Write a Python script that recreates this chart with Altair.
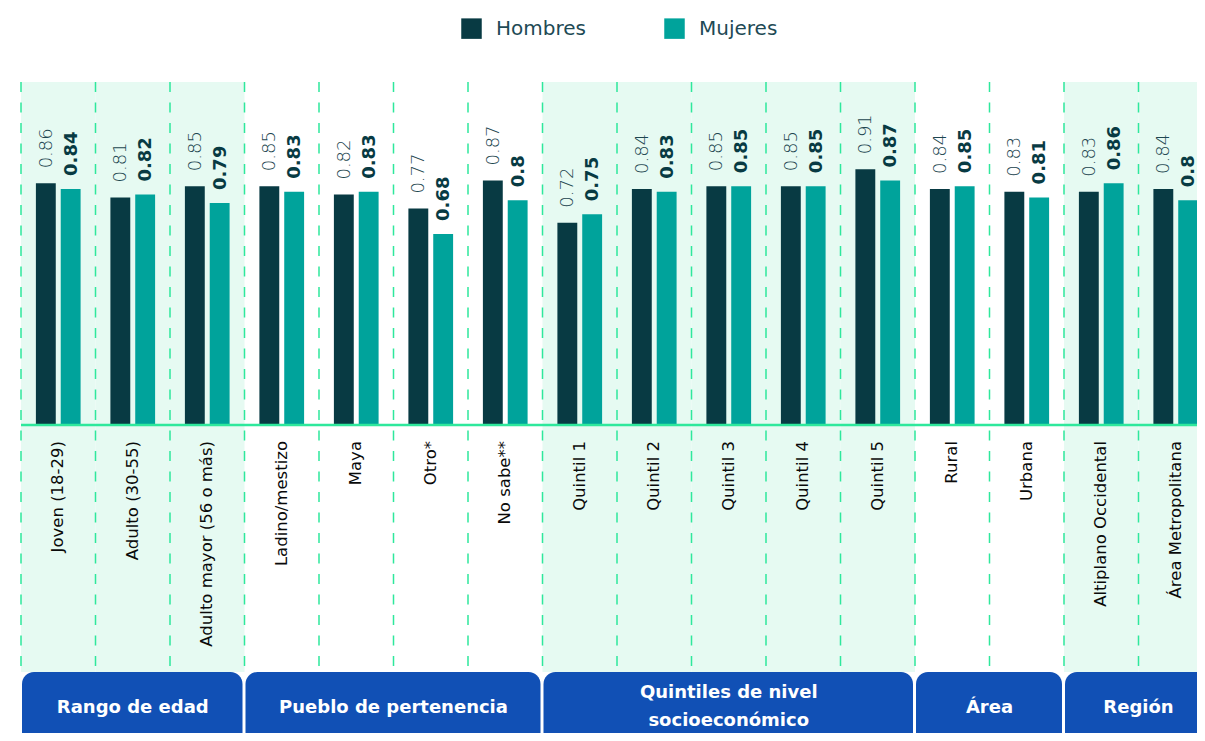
import altair as alt
import pandas as pd

categories = ["Joven (18-29)", "Adulto (30-55)", "Adulto mayor (56 o más)",
              "Ladino/mestizo", "Maya", "Otro*", "No sabe**",
              "Quintil 1", "Quintil 2", "Quintil 3", "Quintil 4", "Quintil 5",
              "Rural", "Urbana",
              "Altiplano Occidental", "Área Metropolitana"]
hombres = [0.86, 0.81, 0.85, 0.85, 0.82, 0.77, 0.87, 0.72, 0.84, 0.85, 0.85, 0.91, 0.84, 0.83, 0.83, 0.84]
mujeres = [0.84, 0.82, 0.79, 0.83, 0.83, 0.68, 0.8, 0.75, 0.83, 0.85, 0.85, 0.87, 0.85, 0.81, 0.86, 0.8]
group_names = ["Rango de edad", "Pueblo de pertenencia", "Quintiles de nivel\nsocioeconómico", "Área", "Región"]
group_sizes = [3, 4, 5, 2, 2]
shaded_groups = ["Rango de edad", "Quintiles de nivel\nsocioeconómico", "Región"]
series = ["Hombres", "Mujeres"]

# ---- tables built from the arrays ----
cat_group = []
for g, n in zip(group_names, group_sizes):
    cat_group += [g] * n

long_rows = []
for c, h, m in zip(categories, hombres, mujeres):
    long_rows.append({"cat": c, "sexo": "Hombres", "val": h, "label": f"{h:g}"})
    long_rows.append({"cat": c, "sexo": "Mujeres", "val": m, "label": f"{m:g}"})
df = pd.DataFrame(long_rows)
cats_df = pd.DataFrame({"cat": categories, "grp": cat_group})

grp_rows = []
start = 0
for g, n in zip(group_names, group_sizes):
    grp_rows.append({"grp": g, "first": categories[start], "last": categories[start + n - 1],
                     "anchor": categories[start + n // 2], "odd": n % 2 == 1,
                     "multi": "\n" in g})
    start += n
grp_df = pd.DataFrame(grp_rows)

W, H = 1176, 651
Y_MIN, Y_MAX = -1.0961, 1.2206
FONT = "DejaVu Sans"
DARK = "#083a43"
TEAL = "#00a39b"
MINT = "#e6faf2"
GREEN = "#2ee89c"
BLUE = "#1150b5"

xscale = alt.Scale(domain=categories, range=[0, 1192], paddingInner=0, paddingOuter=0)
yscale = alt.Scale(domain=[Y_MIN, Y_MAX], nice=False, zero=False)
offscale = alt.Scale(domain=series, paddingInner=0.2, paddingOuter=0.6)

base_cats = alt.Chart(cats_df)

bg = base_cats.mark_rect(fill=MINT, clip=True).encode(
    x=alt.X("cat:N", scale=xscale, axis=None),
    y=alt.value(0), y2=alt.value(590),
).transform_filter(alt.FieldOneOfPredicate(field="grp", oneOf=shaded_groups))

dashes = base_cats.mark_rule(color=GREEN, strokeWidth=1.5, strokeDash=[10, 10.5]).encode(
    x=alt.X("cat:N", scale=xscale, axis=None, bandPosition=0),
    y=alt.value(0), y2=alt.value(588),
)

bars = alt.Chart(df).mark_bar(clip=True).encode(
    x=alt.X("cat:N", scale=xscale, axis=None),
    xOffset=alt.XOffset("sexo:N", scale=offscale),
    y=alt.Y("val:Q", scale=yscale, axis=None),
    y2=alt.datum(0),
    color=alt.Color("sexo:N", scale=alt.Scale(domain=series, range=[DARK, TEAL]),
                    legend=alt.Legend(title=None, orient="none", legendX=440, legendY=-64,
                                      direction="horizontal", symbolType="square", symbolSize=420,
                                      symbolStrokeWidth=0, labelFont=FONT, labelFontSize=20,
                                      labelColor="#1e4a55", labelOffset=14, columnPadding=78,
                                      padding=0)),
)

baseline = alt.Chart(cats_df).mark_rule(color=GREEN, strokeWidth=2.5).encode(
    x=alt.value(0), x2=alt.value(W), y=alt.Y(datum=0, scale=yscale, axis=None)
).transform_filter(alt.datum.cat == categories[0])


def value_labels(sexo, weight, color, dx):
    return alt.Chart(df).transform_filter(alt.datum.sexo == sexo).mark_text(
        angle=270, align="left", baseline="middle", dx=dx, dy=1, font=FONT, fontSize=18,
        fontWeight=weight, color=color
    ).encode(
        x=alt.X("cat:N", scale=xscale, axis=None),
        xOffset=alt.XOffset("sexo:N", scale=offscale),
        y=alt.Y("val:Q", scale=yscale, axis=None),
        text="label:N",
    )


lab_h = value_labels("Hombres", 300, "#1d4650", 15)
lab_m = value_labels("Mujeres", "bold", DARK, 13)

cat_labels = base_cats.mark_text(
    angle=270, align="right", baseline="middle", dx=-16, font=FONT, fontSize=16.5,
    color="#0a0a0a"
).encode(
    x=alt.X("cat:N", scale=xscale, axis=None),
    y=alt.Y(datum=0, scale=yscale, axis=None),
    text="cat:N",
)

boxes = alt.Chart(grp_df).mark_rect(fill=BLUE, cornerRadius=12, clip=True, xOffset=1, x2Offset=-2).encode(
    x=alt.X("first:N", scale=xscale, axis=None, bandPosition=0),
    x2=alt.X2("last:N", bandPosition=1),
    y=alt.value(590), y2=alt.value(720),
)


def box_text(filt, band_pos, dy):
    return alt.Chart(grp_df).transform_filter(filt).mark_text(
        font=FONT, fontSize=18, fontWeight="bold", color="white", lineBreak="\n",
        lineHeight=28, baseline="middle", align="center", dy=dy, clip=True
    ).encode(
        x=alt.X("anchor:N", scale=xscale, axis=None, bandPosition=band_pos),
        y=alt.value(626),
        text="grp:N",
    )


bt_odd = box_text("datum.odd && !datum.multi", 0.5, 0)
bt_odd_multi = box_text("datum.odd && datum.multi", 0.5, -15)
bt_even = box_text("!datum.odd", 0, 0)

chart = alt.layer(
    bg, dashes, bars, baseline, lab_h, lab_m, cat_labels, boxes, bt_odd, bt_odd_multi, bt_even
).properties(
    width=W, height=H,
    autosize=alt.AutoSizeParams(type="none"),
    padding={"left": 13, "top": 74, "right": 0, "bottom": 0},
    background="white",
).configure_view(stroke=None)

chart.save("out.html", embed_options={"renderer": "svg", "actions": False})
